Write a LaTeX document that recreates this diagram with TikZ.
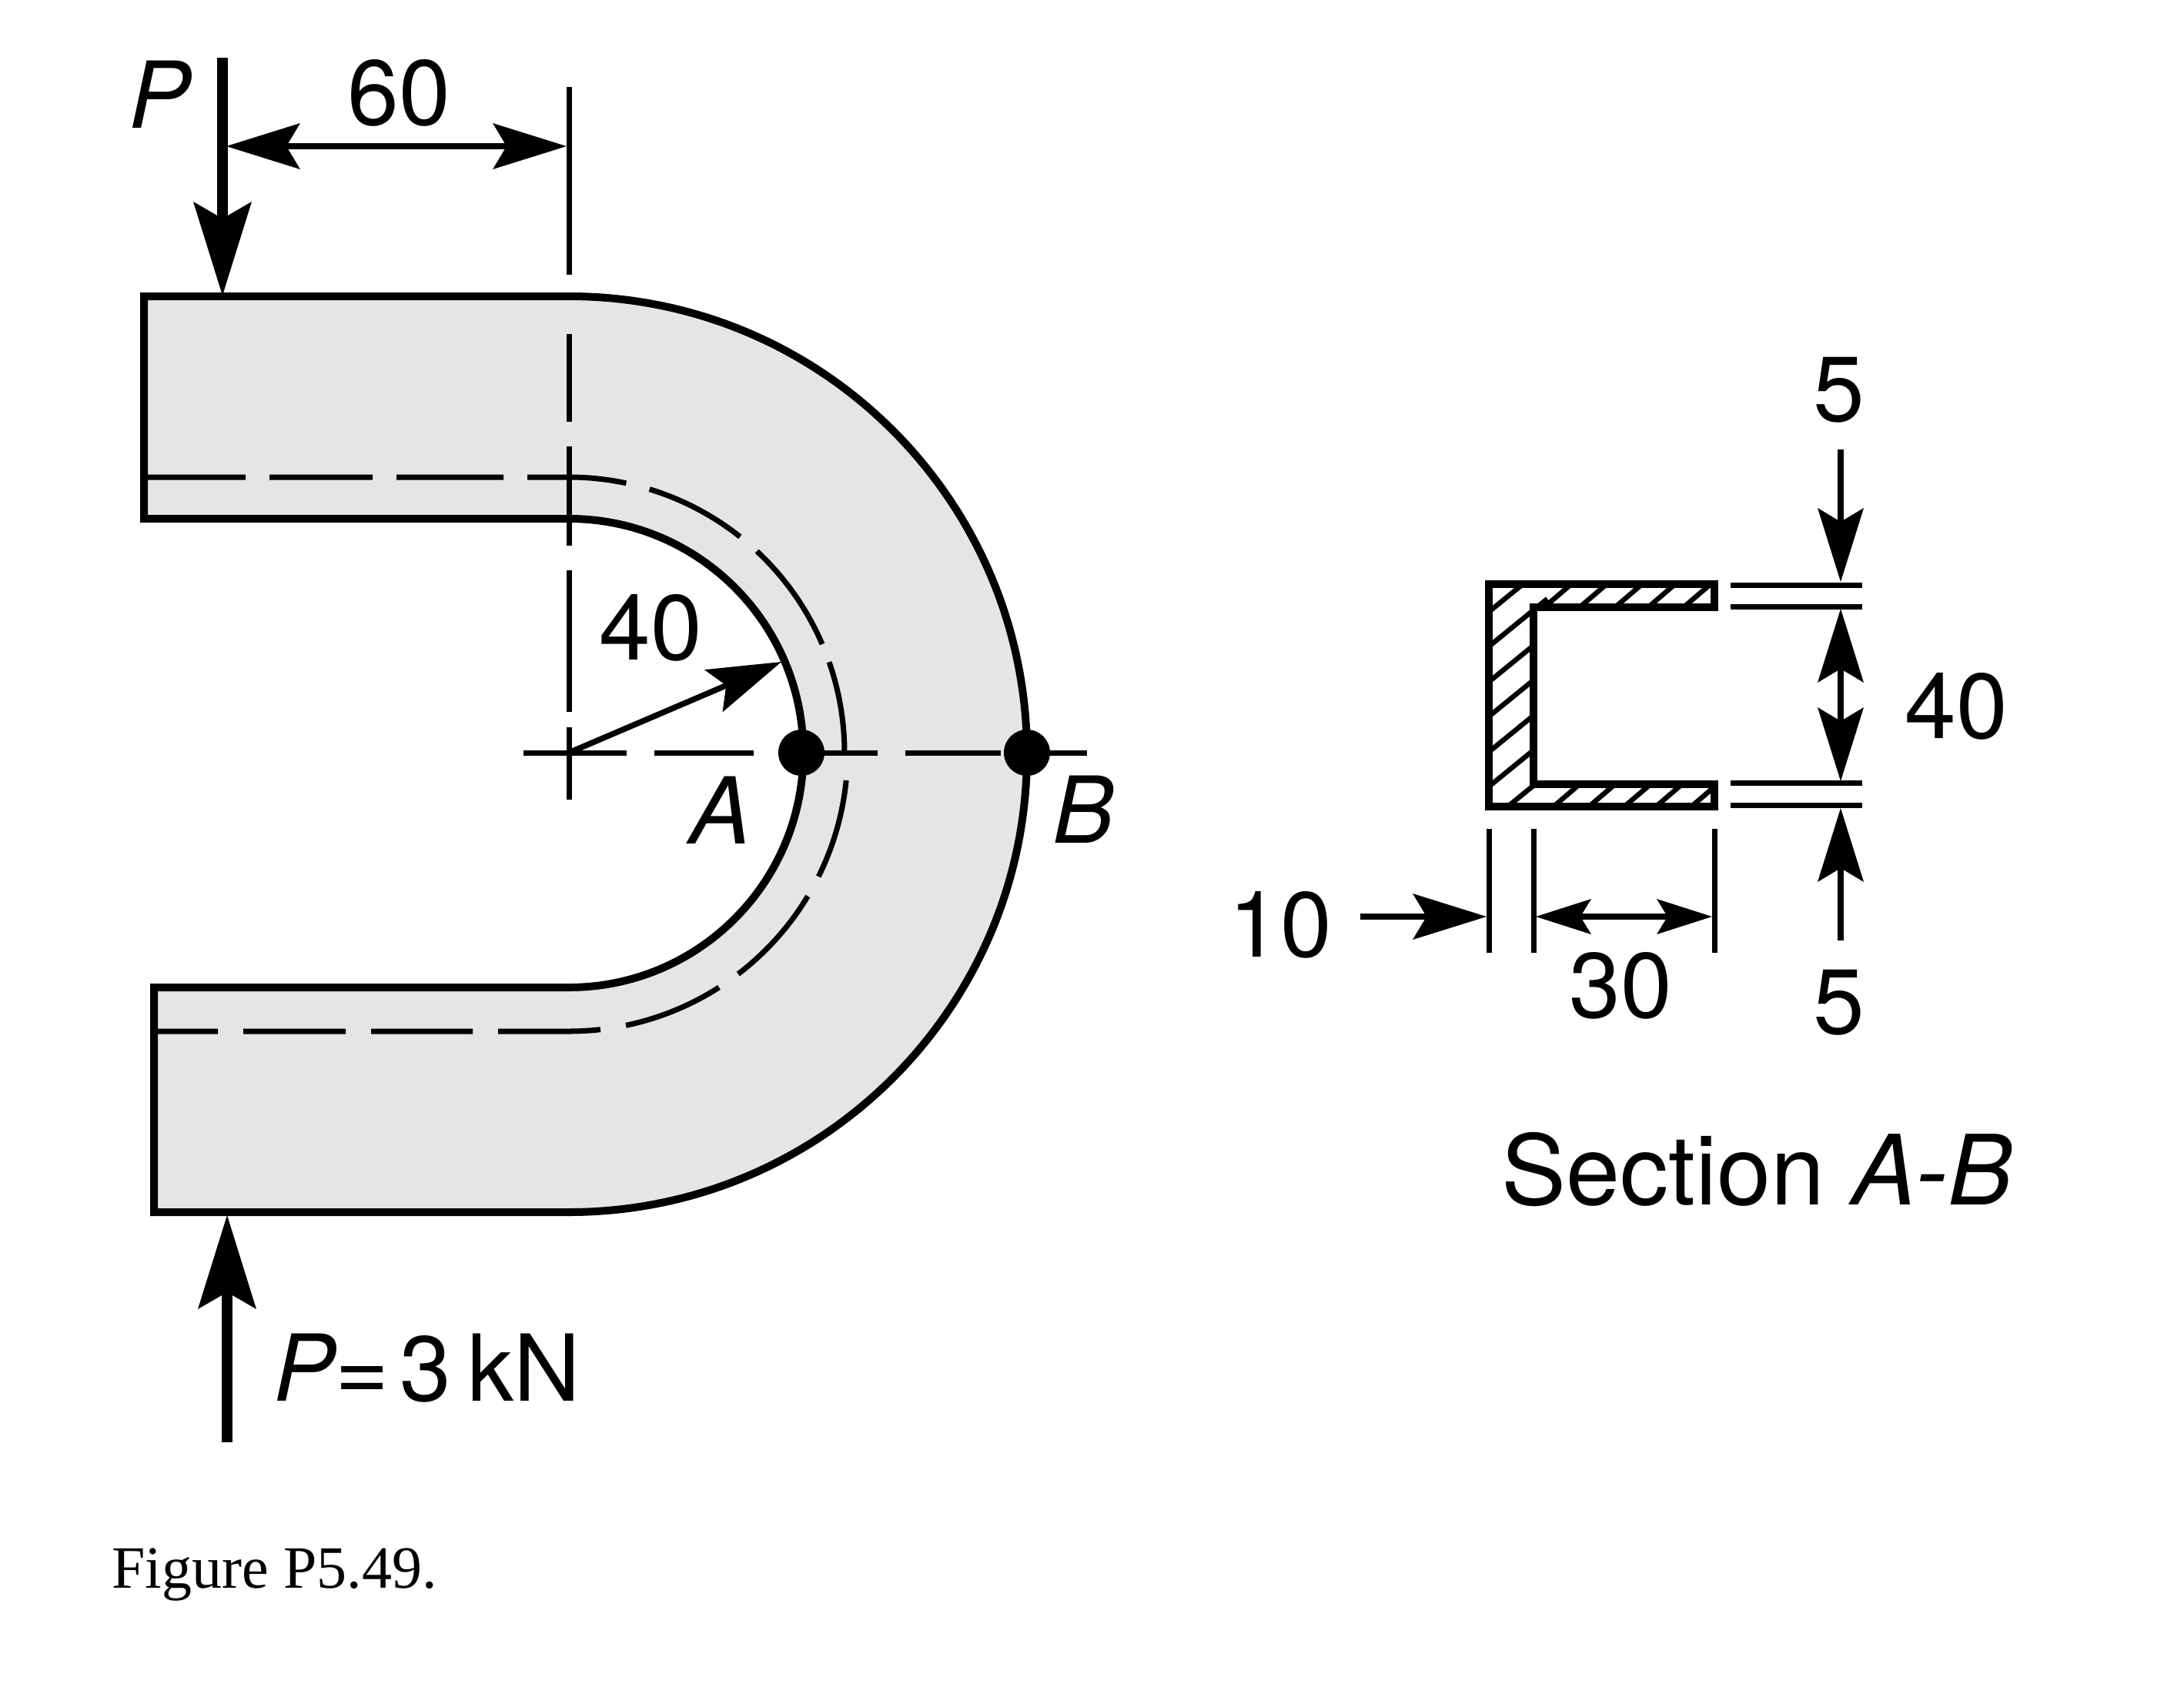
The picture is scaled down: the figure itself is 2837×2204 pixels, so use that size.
\documentclass[tikz,border=0pt]{standalone}
\usepackage{fontspec}
\setmainfont{TeX Gyre Heros}
\newfontfamily\capfont{Liberation Serif}
\usetikzlibrary{arrows.meta}
\tikzset{
  edge/.style={line width=10pt,black},
  thin line/.style={line width=7pt,black},
  hatch/.style={line width=6.5pt,black},
  lbl/.style={inner sep=0pt,font=\fontsize{120}{120}\selectfont},
  bigtip/.tip={Stealth[length=122pt,width=76pt,inset=22pt,line width=0pt]},
  smalltip/.tip={Stealth[length=96pt,width=60pt,inset=18pt,line width=0pt]},
  minitip/.tip={Stealth[length=72pt,width=46pt,inset=14pt,line width=0pt]},
  force/.style={line width=14pt,-bigtip},
  dim/.style={line width=7.5pt,-smalltip},
  dimboth/.style={line width=7.5pt,smalltip-smalltip},
  dimmini/.style={line width=7.5pt,minitip-minitip},
  joint/.style={circle,fill=black,inner sep=0pt,minimum size=60pt},
}
\begin{document}
\begin{tikzpicture}[x=1pt,y=-1pt]
\useasboundingbox (0,0) rectangle (2837,2204);
\fill[white] (0,0) rectangle (2837,2204);
% body
\fill[black!10!white] (187,385) -- (739,385) arc[start angle=-90,end angle=90,radius=595] -- (739,1575) -- (200,1575) -- (200,1283)
  -- (739,1283) arc[start angle=90,end angle=-90,radius=304.5] -- (187,674) -- cycle;
\draw[edge,line join=miter] (739,1283) -- (200,1283) -- (200,1575) -- (739,1575) arc[start angle=90,end angle=-90,radius=595] -- (187,385) -- (187,674) -- (739,674) arc[start angle=-90,end angle=90,radius=304.5];
% hidden line, upper half
\draw[thin line] (187,620) -- (319,620) (350,620) -- (484,620) (515,620) -- (654,620) (685,620) -- (739,620) arc[start angle=-90,end angle=-78,radius=358];
\foreach \a/\b in {-73/-51.6,-47/-23.2,-19.2/0}
  \draw[thin line] (739,978) ++(\a:358) arc[start angle=\a,end angle=\b,radius=358];
% hidden line, lower half
\foreach \a/\b in {5.7/26.4,31/52.6,57.4/78.2}
  \draw[thin line] (739,978) ++(\a:362) arc[start angle=\a,end angle=\b,radius=362];
\draw[thin line] (739,978) ++(83.5:362) arc[start angle=83.5,end angle=90,radius=362] -- (647,1340) (614,1340) -- (482,1340) (449,1340) -- (316,1340) (283,1340) -- (200,1340);
% centre lines
\draw[thin line] (739,113) -- (739,357) (739,434) -- (739,548) (739,580) -- (739,709) (739,741) -- (739,925) (739,945) -- (739,1039);
\draw[thin line] (680,978) -- (814,978) (850,978) -- (979,978) (1039,978) -- (1140,978) (1176,978) -- (1300,978) (1334,978) -- (1412,978);
% loads and dimensions
\draw[force] (289,75) -- (289,384);
\draw[force] (295,1874) -- (295,1579);
\draw[dimboth] (294,190) -- (736,190);
\draw[dim] (739,978) -- (1015,860);
\node[joint] (A) at (1041,978) {};
\node[joint] (B) at (1334,978) {};
% section
\begin{scope}
\clip (1934,759) -- (2227,759) -- (2227,789) -- (1992,789) -- (1992,1019) -- (2227,1019) -- (2227,1048) -- (1934,1048) -- cycle;
\foreach \c in {795,840,886,931,977,1022,1068}
  \draw[hatch] (1934,\c) -- (2010,{\c-62});
\foreach \x in {2006,2052,2098,2141,2187}
  \draw[hatch] (\x,789) -- ({\x+35},759);
\foreach \x in {2018,2064,2110,2151,2197}
  \draw[hatch] (\x,1048) -- ({\x+35},1018);
\end{scope}
\draw[edge,line join=miter] (1934,759) -- (2227,759) -- (2227,789) -- (1992,789) -- (1992,1019) -- (2227,1019) -- (2227,1048) -- (1934,1048) -- cycle;
\draw[thin line] (2248,760) -- (2419,760) (2248,788) -- (2419,788) (2248,1017) -- (2419,1017) (2248,1046) -- (2419,1046);
\draw[thin line] (1934,1077) -- (1934,1238) (1992,1077) -- (1992,1238) (2227,1077) -- (2227,1238);
\draw[dim] (2391,584) -- (2391,756);
\draw[dimboth] (2391,791) -- (2391,1015);
\draw[dim] (2391,1222) -- (2391,1050);
\draw[dim] (1767,1191) -- (1931,1191);
\draw[dimmini] (1995,1191) -- (2224,1191);
% labels
\node[lbl,font=\fontsize{120}{120}\selectfont\itshape] (lP) at (208,123) {P};
\node[lbl] (l60) at (518,121) {60};
\node[lbl] (l40a) at (845,816) {40};
\node[lbl,font=\fontsize{120}{120}\selectfont\itshape] (lA) at (936,1053) {A};
\node[lbl,font=\fontsize{120}{120}\selectfont\itshape] (lB) at (1408,1052) {B};
\node[lbl,anchor=base west] (lP3) at (355,1820) {\textit{P}\kern-2pt=\kern14pt3\kern22pt kN};
\node[lbl] (l5a) at (2389,507) {5};
\node[lbl] (l40b) at (2541,918) {40};
\node[lbl] (l10) at (1663,1202) {10};
\node[lbl] (l30) at (2105,1281) {30};
\node[lbl] (l5b) at (2389,1303) {5};
\node[lbl,anchor=base west,font=\fontsize{126}{126}\selectfont] (lsec) at (1950,1565) {Section \textit{A-B}};
\node[inner sep=0pt,anchor=base west,font=\capfont\fontsize{78}{78}\selectfont] (lfig) at (145,2063) {Figure P5.49.};
\end{tikzpicture}
\end{document}
